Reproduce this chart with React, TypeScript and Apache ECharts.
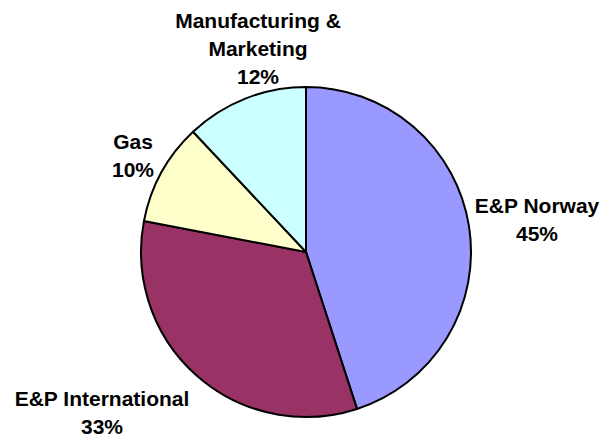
import React, { useEffect, useRef } from "react";
import * as echarts from "echarts";

const categories = ["E&P Norway", "E&P International", "Gas", "Manufacturing &\nMarketing"];
const values = [45, 33, 10, 12];
const colors = ["#9999FF", "#993366", "#FFFFCC", "#CCFFFF"];
const labelPos: [number, number][] = [
  [537, 219],
  [102, 412],
  [133, 155],
  [258, 48],
];

export default function App() {
  const ref = useRef<HTMLDivElement>(null);
  useEffect(() => {
    document.body.style.margin = "0";
    if (!ref.current) return;
    const chart = echarts.init(ref.current, undefined, { renderer: "svg" });
    chart.setOption({
      animation: false,
      backgroundColor: "#ffffff",
      series: [
        {
          type: "pie",
          center: [306, 252],
          radius: [0, 165],
          startAngle: 90,
          clockwise: true,
          silent: true,
          avoidLabelOverlap: false,
          itemStyle: { borderColor: "#000000", borderWidth: 2 },
          label: {
            show: true,
            position: "outside",
            overflow: "none",
            formatter: (p: any) => `${p.name}\n${p.value}%`,
            fontFamily: "Liberation Sans, Arial, sans-serif",
            fontWeight: "bold",
            fontSize: 21,
            lineHeight: 28,
            color: "#000000",
            align: "center",
          },
          labelLine: { show: false },
          labelLayout: (params: any) => ({
            x: labelPos[params.dataIndex][0],
            y: labelPos[params.dataIndex][1],
            align: "center",
            verticalAlign: "middle",
          }),
          data: categories.map((c, i) => ({
            name: c,
            value: values[i],
            itemStyle: { color: colors[i] },
          })),
        },
      ],
    });
    return () => chart.dispose();
  }, []);
  return <div ref={ref} style={{ width: 604, height: 439 }} />;
}
